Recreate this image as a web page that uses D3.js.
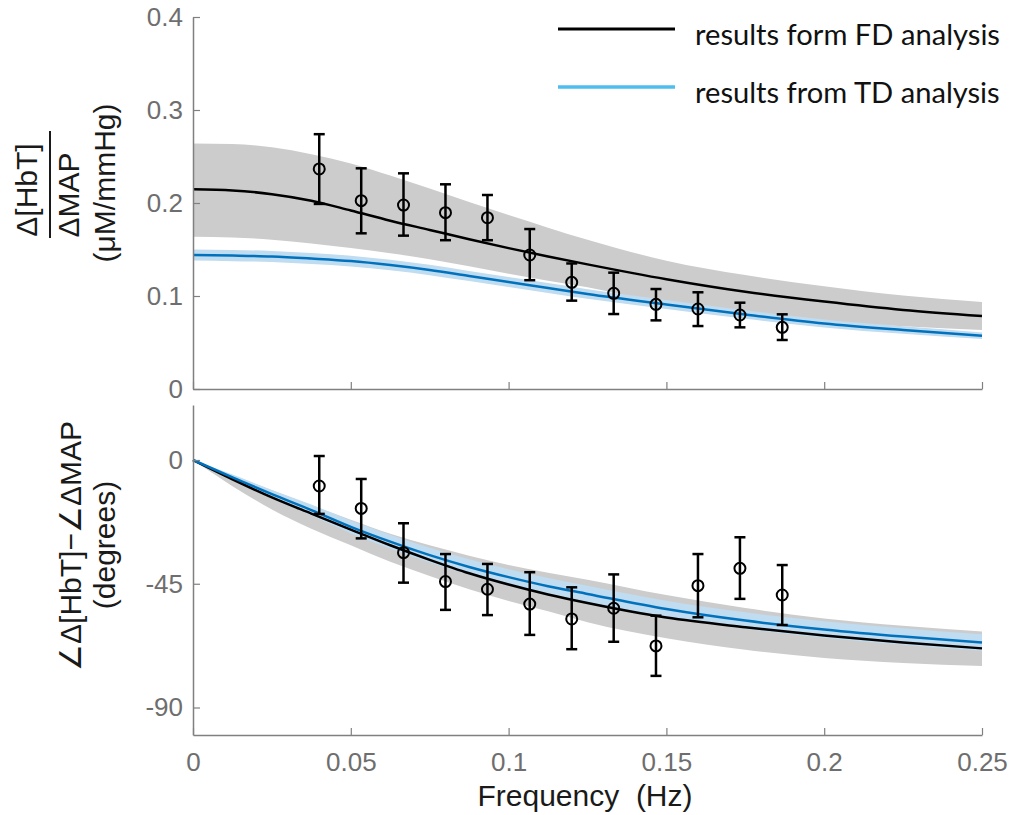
<!DOCTYPE html>
<html>
<head>
<meta charset="utf-8">
<script src="https://cdn.jsdelivr.net/npm/d3@7"></script>
<style>
  html, body { margin: 0; padding: 0; background: #fff; }
  svg { display: block; }
</style>
</head>
<body>
<svg id="chart" width="1014" height="815"></svg>
<script>
// ---------------- DATA ----------------
const curveFreq = [0, 0.0125, 0.025, 0.0375, 0.05, 0.0625, 0.075, 0.0875, 0.1, 0.1125, 0.125, 0.15, 0.175, 0.2, 0.225, 0.25];

// amplitude (µM/mmHg)
const fdAmp   = [0.2147, 0.2135, 0.2095, 0.2025, 0.192, 0.181, 0.171, 0.161, 0.1515, 0.1425, 0.134, 0.118, 0.1045, 0.094, 0.085, 0.0785];
const fdAmpHi = [0.264, 0.2635, 0.260, 0.2525, 0.2425, 0.2295, 0.2155, 0.201, 0.187, 0.1735, 0.1605, 0.138, 0.1225, 0.1105, 0.1005, 0.0935];
const fdAmpLo = [0.1638, 0.163, 0.1605, 0.1565, 0.1515, 0.146, 0.1395, 0.132, 0.124, 0.1165, 0.1095, 0.091, 0.0795, 0.0715, 0.0675, 0.0634];
const tdAmp   = [0.1441, 0.1435, 0.1425, 0.1403, 0.1376, 0.1333, 0.1280, 0.1215, 0.1151, 0.1086, 0.1022, 0.0909, 0.0801, 0.0704, 0.0634, 0.0573];
const tdAmpHi = [0.1501, 0.1495, 0.1485, 0.1462, 0.1434, 0.139, 0.1336, 0.127, 0.1205, 0.1139, 0.1073, 0.0957, 0.0847, 0.0746, 0.0674, 0.0608];
const tdAmpLo = [0.1381, 0.1375, 0.1365, 0.1344, 0.1318, 0.1276, 0.1224, 0.116, 0.1097, 0.1033, 0.0971, 0.0861, 0.0755, 0.0662, 0.0594, 0.0538];

// phase (degrees)
const fdPh   = [0, -7.0, -13.6, -19.5, -25.3, -31.0, -36.3, -41.2, -45.3, -48.9, -52, -57.3, -60.8, -63.8, -66.4, -68.5];
const fdPhHi = [0, -5.6, -11, -16.5, -21.7, -26.8, -31, -34.8, -38.2, -41, -43.5, -49.1, -53.8, -57.6, -60.3, -62.4];
const fdPhLo = [0, -9.5, -18, -25, -31, -37, -42.2, -47, -51.3, -55, -59, -64.8, -69, -72, -73.8, -74.9];
const tdPh   = [0, -6.3, -12.4, -18.2, -24.3, -29.7, -34.6, -38.9, -42.6, -45.9, -48.7, -54.2, -58.4, -61.6, -64.2, -66.4];
const tdPhHi = [0, -5.3, -10.9, -16.2, -22, -27.2, -31.9, -36.1, -39.7, -42.9, -45.7, -51.2, -55.4, -58.6, -61.2, -63.4];
const tdPhLo = [0, -7.3, -13.9, -20.2, -26.6, -32.2, -37.3, -41.7, -45.5, -48.9, -51.7, -57.2, -61.4, -64.6, -67.2, -69.4];

// measured points with error bars
const ptFreq  = [0.04, 0.0533, 0.0667, 0.08, 0.0933, 0.1067, 0.12, 0.1333, 0.1467, 0.16, 0.1733, 0.1867];
const ampMean = [0.2366, 0.2025, 0.1978, 0.1896, 0.1842, 0.1441, 0.1147, 0.1029, 0.0910, 0.0860, 0.0796, 0.0663];
const ampHi   = [0.274, 0.2373, 0.2319, 0.2201, 0.2086, 0.172, 0.135, 0.1251, 0.1075, 0.104, 0.0928, 0.0803];
const ampLo   = [0.199, 0.1674, 0.1649, 0.160, 0.160, 0.117, 0.095, 0.0806, 0.0738, 0.0677, 0.0663, 0.0527];
const phMean  = [-9.45, -17.6, -33.7, -44.2, -47.0, -52.4, -57.8, -53.9, -67.6, -45.7, -39.4, -49.1];
const phHi    = [1.45, -6.9, -23.0, -34.2, -37.8, -40.8, -46.3, -41.6, -56.6, -34.2, -28.1, -38.2];
const phLo    = [-19.6, -28.5, -44.6, -54.5, -56.4, -63.6, -68.8, -66.1, -78.5, -57.2, -50.5, -60.0];

// ticks
const xTicks = [0, 0.05, 0.1, 0.15, 0.2, 0.25];
const xTickLabels = ["0", "0.05", "0.1", "0.15", "0.2", "0.25"];
const ampTicks = [0, 0.1, 0.2, 0.3, 0.4];
const ampTickLabels = ["0", "0.1", "0.2", "0.3", "0.4"];
const phTicks = [-90, -45, 0];
const phTickLabels = ["-90", "-45", "0"];

const legendLabels = ["results form FD analysis", "results from TD analysis"];

// ---------------- LAYOUT ----------------
const svg = d3.select("#chart");
const X0 = 193, X1 = 982;
const topP = {y0: 389, y1: 17};
const botP = {y0: 735, y1: 405};

const x = d3.scaleLinear().domain([0, 0.25]).range([X0, X1]);
const yA = d3.scaleLinear().domain([0, 0.4]).range([topP.y0, topP.y1]);
const yP = d3.scaleLinear().domain([-100, 20]).range([botP.y0, botP.y1]);

const axisColor = "#808080";
const tickFont = "'Liberation Sans', Arial, Helvetica, sans-serif";
const black = "#000000";
const blue = "#0072BD";
const gray = "#cccccc";
const lightBlue = "#c0dcf0";

function drawPanel(yScale, mean, hi, lo, tMean, tHi, tLo, pMean, pHi, pLo) {
  const g = svg.append("g");
  const area = (h, l) => d3.area()
    .x((d, i) => x(curveFreq[i]))
    .y0((d, i) => yScale(l[i]))
    .y1((d, i) => yScale(h[i]))
    .curve(d3.curveMonotoneX);
  const line = arr => d3.line()
    .x((d, i) => x(curveFreq[i]))
    .y((d, i) => yScale(arr[i]))
    .curve(d3.curveMonotoneX);

  g.append("path").datum(curveFreq).attr("d", area(hi, lo)).attr("fill", gray);
  g.append("path").datum(curveFreq).attr("d", area(tHi, tLo)).attr("fill", lightBlue);
  g.append("path").datum(curveFreq).attr("d", line(mean)).attr("fill", "none")
    .attr("stroke", black).attr("stroke-width", 2.5);
  g.append("path").datum(curveFreq).attr("d", line(tMean)).attr("fill", "none")
    .attr("stroke", blue).attr("stroke-width", 2.5);

  // error bars
  const eb = g.append("g").attr("stroke", black).attr("stroke-width", 2.5).attr("fill", "none");
  ptFreq.forEach((f, i) => {
    const cx = x(f);
    eb.append("line").attr("x1", cx).attr("x2", cx).attr("y1", yScale(pHi[i])).attr("y2", yScale(pLo[i]));
    eb.append("line").attr("x1", cx - 5.5).attr("x2", cx + 5.5).attr("y1", yScale(pHi[i])).attr("y2", yScale(pHi[i]));
    eb.append("line").attr("x1", cx - 5.5).attr("x2", cx + 5.5).attr("y1", yScale(pLo[i])).attr("y2", yScale(pLo[i]));
    eb.append("circle").attr("cx", cx).attr("cy", yScale(pMean[i])).attr("r", 5.5)
      .attr("stroke-width", 2);
  });
}

drawPanel(yA, fdAmp, fdAmpHi, fdAmpLo, tdAmp, tdAmpHi, tdAmpLo, ampMean, ampHi, ampLo);
drawPanel(yP, fdPh, fdPhHi, fdPhLo, tdPh, tdPhHi, tdPhLo, phMean, phHi, phLo);

function styleAxis(g) {
  g.select(".domain").attr("stroke", axisColor).attr("stroke-width", 1.5);
  g.selectAll(".tick line").attr("stroke", axisColor).attr("stroke-width", 1.2);
  g.selectAll(".tick text").attr("fill", "#6e6e6e")
    .style("font-family", tickFont).style("font-size", "26px");
}

// top panel axes
svg.append("g").attr("transform", `translate(${X0},0)`)
  .call(d3.axisLeft(yA).tickValues(ampTicks).tickFormat((d, i) => ampTickLabels[i])
    .tickSizeInner(-7).tickSizeOuter(0).tickPadding(10))
  .call(styleAxis);
svg.append("g").attr("transform", `translate(0,${topP.y0})`)
  .call(d3.axisBottom(x).tickValues(xTicks).tickFormat("")
    .tickSizeInner(-7).tickSizeOuter(0))
  .call(styleAxis);

// bottom panel axes
svg.append("g").attr("transform", `translate(${X0},0)`)
  .call(d3.axisLeft(yP).tickValues(phTicks).tickFormat((d, i) => phTickLabels[i])
    .tickSizeInner(-7).tickSizeOuter(0).tickPadding(10))
  .call(styleAxis);
svg.append("g").attr("transform", `translate(0,${botP.y0})`)
  .call(d3.axisBottom(x).tickValues(xTicks).tickFormat((d, i) => xTickLabels[i])
    .tickSizeInner(-7).tickSizeOuter(0).tickPadding(18))
  .call(styleAxis);

// axis labels
const labelFont = "'Liberation Sans', Arial, Helvetica, sans-serif";
function rotLabel(cx, cy, txt, size) {
  svg.append("text")
    .attr("transform", `translate(${cx},${cy}) rotate(-90)`)
    .attr("text-anchor", "middle")
    .attr("dominant-baseline", "central")
    .style("font-family", labelFont).style("font-size", (size || 30) + "px")
    .attr("fill", "#1a1a1a")
    .text(txt);
}
rotLabel(26, 190, "Δ[HbT]");
svg.append("line").attr("x1", 50).attr("x2", 50).attr("y1", 131).attr("y2", 238)
  .attr("stroke", "#1a1a1a").attr("stroke-width", 2);
rotLabel(68, 195, "ΔMAP");
rotLabel(104, 183, "(μM/mmHg)");

rotLabel(70, 546, "∠Δ[HbT]−∠ΔMAP");
rotLabel(104, 545, "(degrees)");

svg.append("text")
  .attr("x", 585).attr("y", 806)
  .attr("text-anchor", "middle")
  .style("font-family", labelFont).style("font-size", "30px")
  .attr("fill", "#1a1a1a")
  .text("Frequency\u00a0\u00a0(Hz)");

// legend
const legendColors = ["#000000", "#4DBEEE"];
const legendY = [29, 87];
const legendTextY = [45, 103];
const lg = svg.append("g");
legendLabels.forEach((lab, i) => {
  lg.append("line").attr("x1", 558).attr("x2", 675).attr("y1", legendY[i]).attr("y2", legendY[i])
    .attr("stroke", legendColors[i]).attr("stroke-width", i === 0 ? 3 : 3.5);
  lg.append("text").attr("class", "legtext").attr("x", 695).attr("y", legendTextY[i])
    .style("font-family", "Lato, 'Open Sans', sans-serif").style("font-size", "25px")
    .attr("fill", "#111")
    .text(lab);
});
// fit legend text width to the reference (~305px)
const first = lg.select(".legtext").node();
const w = first.getComputedTextLength();
const fs = 25 * 305 / w;
lg.selectAll(".legtext").style("font-size", fs.toFixed(2) + "px");
</script>
</body>
</html>
